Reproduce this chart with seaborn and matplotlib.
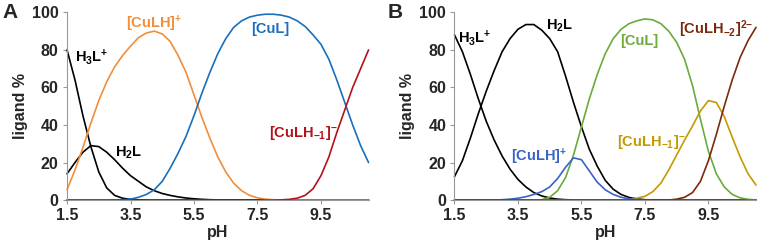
import numpy as np
import pandas as pd
import matplotlib
matplotlib.use('Agg')
import matplotlib.pyplot as plt
import seaborn as sns

# pH grid shared by both panels
ph = np.arange(1.5, 11.01, 0.25)

# Panel A species (ligand %)
a_h3l = [80, 64, 45, 28.5, 15, 6.5, 2.5, 1, 0.4, 0.15, 0.05, 0, 0,
         0, 0, 0, 0, 0, 0, 0, 0, 0, 0, 0, 0, 0,
         0, 0, 0, 0, 0, 0, 0, 0, 0, 0, 0, 0, 0]
a_h2l = [14, 20, 25.5, 29, 28.5, 25.5, 21.5, 17, 13, 10, 7, 5, 3.5,
         2.5, 1.7, 1.1, 0.7, 0.4, 0.2, 0.1, 0, 0, 0, 0, 0, 0,
         0, 0, 0, 0, 0, 0, 0, 0, 0, 0, 0, 0, 0]
a_culh = [5.5, 16, 28, 41, 53, 63, 71, 77, 82, 86.5, 89, 90, 88.5,
          84.5, 77, 68, 56, 44, 33, 23, 15, 9, 5, 2.5, 1.2, 0.5,
          0.2, 0.1, 0, 0, 0, 0, 0, 0, 0, 0, 0, 0, 0]
a_cul = [0, 0, 0, 0, 0, 0, 0.1, 0.2, 0.5, 1.5, 3, 5.5, 10,
         17, 25, 34, 45, 57, 68, 78, 86, 92, 95.5, 97.5, 98.5, 99,
         99, 98.5, 97.5, 95.5, 92.5, 88, 83, 75, 64, 52, 40, 29, 20]
a_culh1 = [0, 0, 0, 0, 0, 0, 0, 0, 0, 0, 0, 0, 0,
           0, 0, 0, 0, 0, 0, 0, 0, 0, 0, 0, 0, 0,
           0, 0.1, 0.4, 1, 2.5, 6, 13, 23, 36, 48, 60, 70, 80]

# Panel B species (ligand %)
b_h3l = [88, 79, 67, 54, 42, 32, 23.5, 16.5, 11, 7, 4, 2.2, 1.1,
         0.5, 0.2, 0.1, 0, 0, 0, 0, 0, 0, 0, 0, 0, 0,
         0, 0, 0, 0, 0, 0, 0, 0, 0, 0, 0, 0, 0]
b_h2l = [12.5, 21, 33, 46, 58, 69, 79, 86, 91, 93.5, 93.5, 90.5, 86,
         79, 66, 52, 39, 27, 18, 10.5, 5.8, 3, 1.4, 0.6, 0.2, 0.1,
         0, 0, 0, 0, 0, 0, 0, 0, 0, 0, 0, 0, 0]
b_culh = [0, 0, 0, 0, 0, 0, 0.2, 0.5, 1, 1.8, 3, 4.5, 7,
          11.5, 17.5, 22.5, 21.5, 15.5, 9.5, 5.5, 3, 1.5, 0.7, 0.3, 0.1, 0,
          0, 0, 0, 0, 0, 0, 0, 0, 0, 0, 0, 0, 0]
b_cul = [0, 0, 0, 0, 0, 0, 0, 0, 0, 0, 0, 0.2, 1.5,
         5, 12, 24, 39, 54, 67, 78, 86, 91, 94, 95.5, 96.5, 96,
         94, 90, 84, 75, 61, 43, 26, 14, 7, 3, 1.2, 0.4, 0.1]
b_culh1 = [0, 0, 0, 0, 0, 0, 0, 0, 0, 0, 0, 0, 0,
           0, 0, 0, 0, 0, 0, 0, 0, 0, 0.5, 1, 2, 4.5,
           9, 16, 24, 32, 39.5, 47.5, 53, 52, 44.5, 33.5, 23, 14, 8]
b_culh2 = [0, 0, 0, 0, 0, 0, 0, 0, 0, 0, 0, 0, 0,
           0, 0, 0, 0, 0, 0, 0, 0, 0, 0, 0, 0, 0,
           0, 0, 0.5, 1.5, 4, 10, 21, 35, 50, 64, 76, 85, 92]

ticks_x = [1.5, 3.5, 5.5, 7.5, 9.5]
ticks_y = [0, 20, 40, 60, 80, 100]

sns.set_style('ticks')
plt.rcParams['font.family'] = ['Liberation Sans', 'DejaVu Sans']
plt.rcParams['font.weight'] = 'bold'
plt.rcParams['mathtext.default'] = 'regular'

panels = {
    'A': {'H3L': (a_h3l, 'black'), 'H2L': (a_h2l, 'black'),
          'CuLH': (a_culh, '#f28e3a'), 'CuL': (a_cul, '#1a6fbd'),
          'CuLH-1': (a_culh1, '#b3121b')},
    'B': {'H3L': (b_h3l, 'black'), 'H2L': (b_h2l, 'black'),
          'CuL': (b_cul, '#6aab3c'), 'CuLH-1': (b_culh1, '#c49a00'),
          'CuLH': (b_culh, '#3a63c4'), 'CuLH-2': (b_culh2, '#7a2a0c')},
}

labels = {
    'A': [('$H_3L^{+}$', 1.75, 76, 'black', 'left'),
          ('$[CuLH]^{+}$', 4.25, 94, '#f28e3a', 'center'),
          ('[CuL]', 7.9, 91, '#1a6fbd', 'center'),
          ('$H_2L$', 3.45, 25, 'black', 'center'),
          ('$[CuLH_{\u22121}]^{\u2212}$', 8.95, 36, '#b3121b', 'center')],
    'B': [('$H_3L^{+}$', 1.62, 86, 'black', 'left'),
          ('$H_2L$', 4.8, 93, 'black', 'center'),
          ('$[CuLH]^{+}$', 4.18, 23, '#3a63c4', 'center'),
          ('[CuL]', 7.32, 85, '#6aab3c', 'center'),
          ('$[CuLH_{\u22121}]^{\u2212}$', 7.7, 31, '#c49a00', 'center'),
          ('$[CuLH_{\u22122}]^{2{\u2212}}$', 9.75, 91, '#7a2a0c', 'center')],
}

fig, axes = plt.subplots(1, 2, figsize=(7.75, 2.52), dpi=100)
fig.subplots_adjust(left=0.0865, right=0.9755, bottom=0.206, top=0.951, wspace=0.285)

for ax, (name, species) in zip(axes, panels.items()):
    rows = []
    for sp, (vals, col) in species.items():
        rows.append(pd.DataFrame({'pH': ph, 'ligand %': vals, 'species': sp}))
    df = pd.concat(rows, ignore_index=True)
    pal = {sp: col for sp, (vals, col) in species.items()}
    sns.lineplot(data=df, x='pH', y='ligand %', hue='species',
                 hue_order=list(species.keys()), palette=pal,
                 linewidth=1.2, legend=False, ax=ax, clip_on=False,
                 solid_joinstyle='round')
    ax.set_xlim(1.5, 11.0)
    ax.set_ylim(0, 100)
    ax.set_xticks(ticks_x)
    ax.set_yticks(ticks_y)
    ax.set_xticklabels([f'{t}' for t in ticks_x])
    ax.tick_params(labelsize=11.5, length=3, width=0.8, color='#999999', pad=3)
    for lab in ax.get_xticklabels() + ax.get_yticklabels():
        lab.set_fontweight('bold')
    ax.set_xlabel('pH', fontsize=11.5, fontweight='bold', labelpad=1)
    ax.set_ylabel('ligand %', fontsize=11.5, fontweight='bold', labelpad=3)
    sns.despine(ax=ax)
    for s in ['left', 'bottom']:
        ax.spines[s].set_color('#999999')
        ax.spines[s].set_linewidth(0.8)
    for txt, x, y, col, ha in labels[name]:
        ax.text(x, y, txt, color=col, fontsize=10.5, fontweight='bold',
                ha=ha, va='center')

fig.text(0.003, 0.99, 'A', fontsize=15, fontweight='bold', va='top')
fig.text(0.5, 0.99, 'B', fontsize=15, fontweight='bold', va='top')

fig.savefig('out.png', dpi=100)
